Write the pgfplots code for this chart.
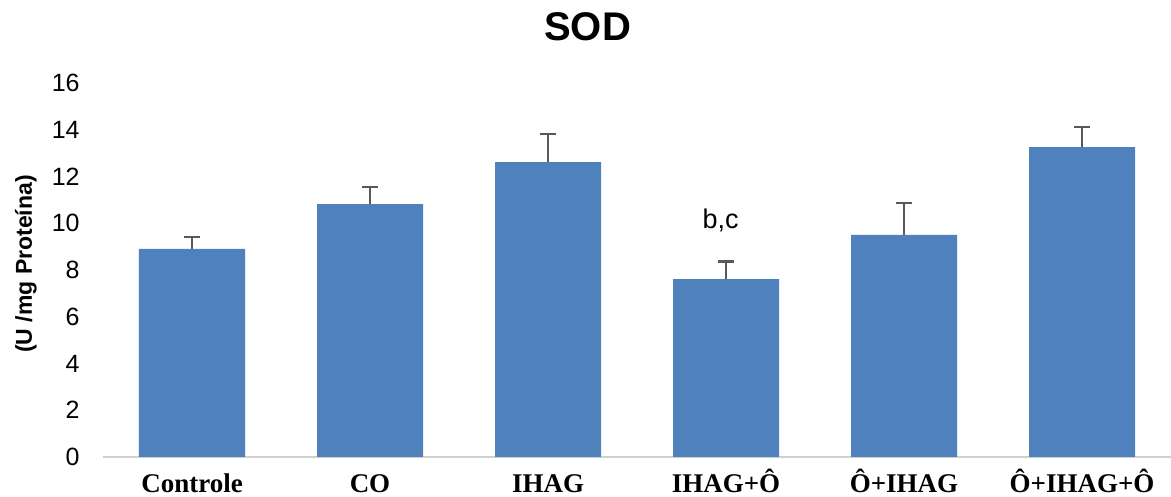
\documentclass[border=0pt]{standalone}
\usepackage{fontspec}
\setmainfont{Liberation Sans}
\newfontfamily\timesfont{Liberation Serif}
\usepackage{pgfplots}
\pgfplotsset{compat=1.18}
\definecolor{barblue}{HTML}{4F81BD}
\definecolor{errgray}{HTML}{595959}
\definecolor{axgray}{HTML}{D0D0D0}
\begin{document}
\begin{tikzpicture}
\begin{axis}[
  scale only axis, width=534pt, height=187pt,
  xmin=-0.5, xmax=5.5, ymin=0, ymax=16,
  ybar, bar width=53pt,
  axis x line*=bottom, axis y line*=left,
  y axis line style={draw=none},
  x axis line style={axgray, line width=0.9pt},
  xtick style={draw=none}, ytick style={draw=none},
  ytick={0,2,...,16},
  xtick={0,...,5},
  xticklabels={Controle,CO,IHAG,IHAG+Ô,Ô+IHAG,Ô+IHAG+Ô},
  /pgf/number format/assume math mode=true,
  yticklabel style={font=\fontsize{12.5}{13}\selectfont, anchor=east, inner sep=0pt, xshift=-11.5pt},
  xticklabel style={font=\timesfont\bfseries\fontsize{13.5}{14}\selectfont, anchor=base, inner sep=0pt, yshift=-13.3pt},
  title={SOD},
  every axis title/.style={at={(axis description cs:0.4537,1.1497)}, anchor=center, font=\bfseries\fontsize{20}{22}\selectfont},
  ylabel={(U /mg Proteína)},
  every axis y label/.style={at={(axis description cs:-0.0721,0.516)}, rotate=90, anchor=center, font=\bfseries\fontsize{11.5}{12}\selectfont},
  clip=false,
]
\addplot[fill=barblue, draw=none,
  error bars/.cd, y dir=plus, y explicit,
  error bar style={errgray, line width=1.4pt},
  error mark options={errgray, line width=1.4pt, mark size=4pt, rotate=90}]
  coordinates {
    (0,8.90) +- (0,0.51)
    (1,10.82) +- (0,0.73)
    (2,12.62) +- (0,1.20)
    (3,7.61) +- (0,0.77)
    (4,9.50) +- (0,1.37)
    (5,13.26) +- (0,0.86)
  };
\node[font=\fontsize{13.5}{14}\selectfont] at (axis cs:2.97,10.1) {b,c};
\end{axis}
\pgfresetboundingbox
\path[use as bounding box] (-51.5pt,-20pt) rectangle (534pt,228.5pt);
\end{tikzpicture}
\end{document}
